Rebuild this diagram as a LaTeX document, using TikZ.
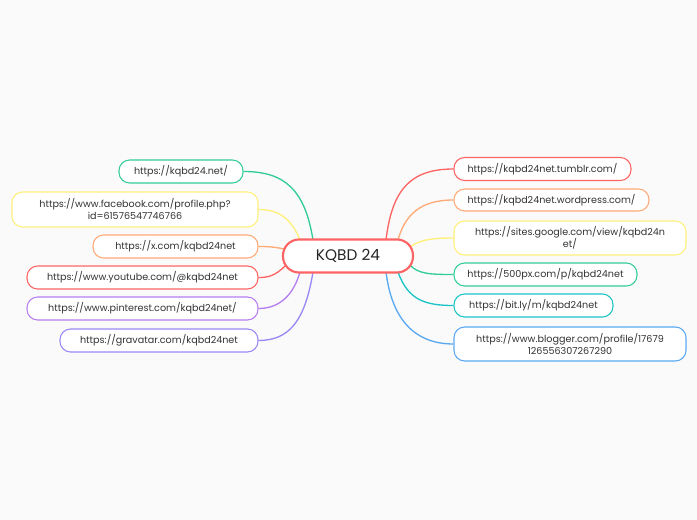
\documentclass[tikz,border=0pt]{standalone}
\usepackage{fontspec}
\setmainfont{Poppins}
\begin{document}
\begin{tikzpicture}[x=0.75pt,y=-0.75pt,
 leaf/.style n args={3}{draw=#1,line width=0.8pt,rounded corners=8pt,fill=white,font=\fontsize{7.2}{9}\selectfont,text=black!80,align=center,inner sep=0pt,minimum width={#2*0.75pt},minimum height={#3*0.75pt}},
 link/.style={draw=#1,line width=1pt}]
\definecolor{cred}{HTML}{FF6464}\definecolor{corange}{HTML}{FFAA77}
\definecolor{cyellow}{HTML}{FFF07A}\definecolor{cgreen}{HTML}{33CC99}
\definecolor{ccyan}{HTML}{1CC4C8}\definecolor{cblue}{HTML}{5AAAF2}
\definecolor{cpurple}{HTML}{B77EF0}\definecolor{cviolet}{HTML}{9A88F5}
\useasboundingbox[fill=white!98!black] (0,0) rectangle (697,520);
\coordinate (s1) at (386,240);\coordinate (s2) at (398,240);\coordinate (s3) at (410,247);
\coordinate (s4) at (410,265);\coordinate (s5) at (398,272);\coordinate (s6) at (386,272);
\coordinate (t1) at (313,240);\coordinate (t2) at (300,240);\coordinate (t3) at (284,249);
\coordinate (t4) at (285,266);\coordinate (t5) at (300,272);\coordinate (t6) at (313,272);
% right
\node[leaf={cred}{177}{23}] (r1) at (542.5,169) {https://kqbd24net.tumblr.com/};
\node[leaf={corange}{195}{22}] (r2) at (551.5,200) {https://kqbd24net.wordpress.com/};
\node[leaf={cyellow}{232}{34}] (r3) at (570,238) {https://sites.google.com/view/kqbd24n\\et/};
\node[leaf={cgreen}{183}{23}] (r4) at (545.5,274.5) {https://500px.com/p/kqbd24net};
\node[leaf={ccyan}{159}{23}] (r5) at (533.5,305.5) {https://bit.ly/m/kqbd24net};
\node[leaf={cblue}{232}{34}] (r6) at (570,344) {https://www.blogger.com/profile/17679\\126556307267290};
% left
\node[leaf={cgreen}{124}{23}] (l1) at (181,171.5) {https://kqbd24.net/};
\node[leaf={cyellow}{246}{35}] (l2) at (135,209.5) {https://www.facebook.com/profile.php?\\id=61576547746766};
\node[leaf={corange}{165}{23}] (l3) at (175.5,246.5) {https://x.com/kqbd24net};
\node[leaf={cred}{231}{23}] (l4) at (142.5,277.5) {https://www.youtube.com/@kqbd24net};
\node[leaf={cpurple}{231}{23}] (l5) at (142.5,308.5) {https://www.pinterest.com/kqbd24net/};
\node[leaf={cviolet}{198}{23}] (l6) at (159,340.5) {https://gravatar.com/kqbd24net};
\draw[link=cred] (s1) .. controls (392,190) and (410,169) .. (r1.west);
\draw[link=corange] (s2) .. controls (405,215) and (420,200) .. (r2.west);
\draw[link=cyellow] (s3) .. controls (420,240) and (430,238) .. (r3.west);
\draw[link=cgreen] (s4) .. controls (418,274) and (430,274.5) .. (r4.west);
\draw[link=ccyan] (s5) .. controls (408,300) and (425,305.5) .. (r5.west);
\draw[link=cblue] (s6) .. controls (392,320) and (415,344) .. (r6.west);
\draw[link=cgreen] (t1) .. controls (305,190) and (285,171.5) .. (l1.east);
\draw[link=cyellow] (t2) .. controls (290,215) and (275,209.5) .. (l2.east);
\draw[link=corange] (t3) .. controls (275,247) and (268,246.5) .. (l3.east);
\draw[link=cred] (t4) .. controls (275,276) and (268,277.5) .. (l4.east);
\draw[link=cpurple] (t5) .. controls (292,300) and (275,308.5) .. (l5.east);
\draw[link=cviolet] (t6) .. controls (305,320) and (290,340.5) .. (l6.east);
\node[draw=cred,line width=1.6pt,rounded corners=12pt,fill=white,minimum width={130*0.75pt},minimum height={33*0.75pt},font=\fontsize{11.5}{13}\selectfont,text=black!85] (c) at (348,256) {KQBD 24};
\end{tikzpicture}
\end{document}
